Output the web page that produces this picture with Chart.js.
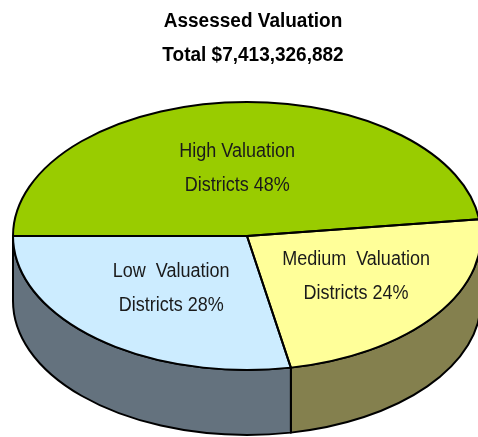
<!DOCTYPE html>
<html>
<head>
<meta charset="utf-8">
<style>
html,body{margin:0;padding:0;background:#fff;overflow:hidden;width:478px;height:437px}
canvas{display:block}
</style>
<script src="https://cdn.jsdelivr.net/npm/chart.js@4/dist/chart.umd.min.js"></script>
</head>
<body>
<canvas id="c" width="490" height="480"></canvas>
<script>
const categories = ['High Valuation Districts', 'Medium Valuation Districts', 'Low Valuation Districts'];
const shares = [48, 24, 28];
const topColors = ['#99CC00', '#FFFF99', '#CCECFF'];
const wallColors = ['#5C7A00', '#84804E', '#64727E'];
const titleLines = ['Assessed Valuation', 'Total $7,413,326,882'];
const sliceLabels = [['High Valuation', 'Districts 48%'], ['Medium  Valuation', 'Districts 24%'], ['Low  Valuation', 'Districts 28%']];

const TILT = 134 / 234, DEPTH = 65, INK = '#000';
const FONT = '"Liberation Sans", Arial, sans-serif';
const labelAnchors = [[-0.042, -0.507], [0.466, 0.302], [-0.324, 0.388]];
const TAU = Math.PI * 2;

function arcsOf(chart) {
  return chart.getDatasetMeta(0).data.map(a => a.getProps(['x', 'y', 'startAngle', 'endAngle', 'outerRadius'], true));
}
function narrowText(ctx, text, x, y, squeeze) {
  ctx.save();
  ctx.translate(x, y);
  ctx.scale(squeeze, 1);
  ctx.fillText(text, 0, 0);
  ctx.restore();
}
const pie3d = {
  id: 'pie3d',
  beforeDatasetsDraw(chart) {
    const ctx = chart.ctx;
    ctx.save();
    ctx.lineWidth = 2; ctx.strokeStyle = INK; ctx.lineJoin = 'round';
    arcsOf(chart).forEach((a, i) => {
      [0, TAU, -TAU].forEach(shift => {
        const s = Math.max(a.startAngle + shift, 0), e = Math.min(a.endAngle + shift, Math.PI);
        if (e <= s) return;
        const rx = a.outerRadius, ry = rx * TILT;
        ctx.beginPath();
        ctx.ellipse(a.x, a.y, rx, ry, 0, s, e);
        ctx.ellipse(a.x, a.y + DEPTH, rx, ry, 0, e, s, true);
        ctx.closePath();
        ctx.fillStyle = wallColors[i];
        ctx.fill();
        ctx.stroke();
      });
    });
    ctx.restore();
    const a0 = arcsOf(chart)[0];
    ctx.save();
    ctx.translate(a0.x, a0.y);
    ctx.scale(1, TILT);
    ctx.translate(-a0.x, -a0.y);
  },
  afterDatasetsDraw(chart) {
    const ctx = chart.ctx;
    ctx.restore();
    const arcs = arcsOf(chart);
    ctx.save();
    ctx.lineWidth = 2; ctx.strokeStyle = INK; ctx.lineJoin = 'round';
    arcs.forEach(a => {
      ctx.beginPath();
      ctx.ellipse(a.x, a.y, a.outerRadius, a.outerRadius * TILT, 0, a.startAngle, a.endAngle);
      ctx.lineTo(a.x, a.y);
      ctx.closePath();
      ctx.stroke();
    });
    ctx.textAlign = 'center';
    ctx.textBaseline = 'middle';
    ctx.fillStyle = '#1a1a1a';
    ctx.font = '20px ' + FONT;
    arcs.forEach((a, i) => {
      const x = a.x + labelAnchors[i][0] * a.outerRadius;
      const y = a.y + labelAnchors[i][1] * a.outerRadius * TILT;
      narrowText(ctx, sliceLabels[i][0], x, y - 17, 0.9);
      narrowText(ctx, sliceLabels[i][1], x, y + 17, 0.9);
    });
    ctx.fillStyle = '#000';
    ctx.font = 'bold 20px ' + FONT;
    narrowText(ctx, titleLines[0], 253, 21, 0.95);
    narrowText(ctx, titleLines[1], 253, 55, 0.95);
    ctx.restore();
  }
};

new Chart(document.getElementById('c'), {
  type: 'pie',
  data: {
    labels: categories,
    datasets: [{ data: shares, backgroundColor: topColors, borderWidth: 0, clip: false, rotation: -90 }]
  },
  options: {
    responsive: false,
    animation: false,
    layout: { padding: { left: 13, right: 9, top: 2, bottom: 10 } },
    plugins: { legend: { display: false }, title: { display: false }, tooltip: { enabled: false } }
  },
  plugins: [pie3d]
});
</script>
</body>
</html>
